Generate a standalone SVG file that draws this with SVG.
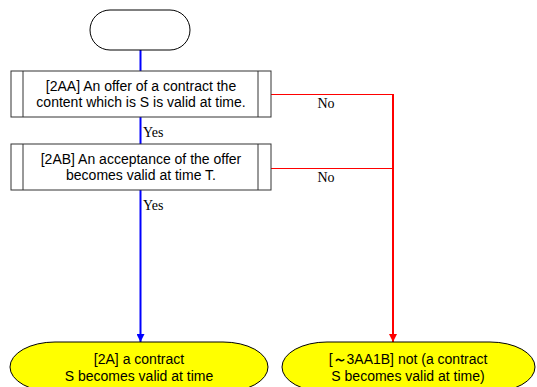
<svg xmlns="http://www.w3.org/2000/svg" width="537" height="387" viewBox="0 0 537 387">
  <style>
    .box { fill: #ffffff; stroke: #333333; stroke-width: 1; }
    .bar { fill: none; stroke: #333333; stroke-width: 1; }
    .term { fill: #ffffff; stroke: #000000; stroke-width: 1; }
    .end { fill: #ffff00; stroke: #000000; stroke-width: 1; }
    .txt { font-family: "Liberation Sans", Arial, sans-serif; font-size: 14px; fill: #000000; text-anchor: middle; }
    .lbl { font-family: "Liberation Serif", "Times New Roman", serif; font-size: 14px; fill: #000000; }
    .yes { fill: none; stroke: #0000ff; stroke-width: 2; }
    .no { fill: none; stroke: #ff0000; stroke-width: 1.2; }
    .no-main { fill: none; stroke: #ff0000; stroke-width: 2; }
  </style>
  <defs>
    <marker id="arrowBlue" viewBox="0 0 10 10" refX="10" refY="5" markerWidth="4" markerHeight="4" orient="auto" markerUnits="strokeWidth">
      <path d="M0,0 L10,5 L0,10 z" fill="#0000ff"/>
    </marker>
    <marker id="arrowRed" viewBox="0 0 10 10" refX="10" refY="5" markerWidth="4" markerHeight="4" orient="auto" markerUnits="strokeWidth">
      <path d="M0,0 L10,5 L0,10 z" fill="#ff0000"/>
    </marker>
  </defs>

  <!-- connectors -->
  <g id="connectors">
    <line class="yes" x1="140.5" y1="50" x2="140.5" y2="71"/>
    <line class="yes" x1="140.5" y1="117" x2="140.5" y2="144"/>
    <line class="yes" x1="140.5" y1="190" x2="140.5" y2="342" marker-end="url(#arrowBlue)"/>
    <line class="no" x1="271" y1="94.5" x2="393" y2="94.5"/>
    <line class="no" x1="271" y1="168.5" x2="393" y2="168.5"/>
    <line class="no-main" x1="393" y1="94" x2="393" y2="342" marker-end="url(#arrowRed)"/>
    <text class="lbl" x="143" y="137">Yes</text>
    <text class="lbl" x="143" y="210">Yes</text>
    <text class="lbl" x="326" y="108" text-anchor="middle">No</text>
    <text class="lbl" x="326" y="182" text-anchor="middle">No</text>
  </g>

  <!-- start terminator -->
  <g id="start">
    <rect class="term" x="90" y="10" width="100" height="40" rx="20" ry="20"/>
  </g>

  <!-- process 2AA -->
  <g id="node-2AA">
    <rect class="box" x="11" y="71" width="260" height="46"/>
    <line class="bar" x1="23" y1="71" x2="23" y2="117"/>
    <line class="bar" x1="258" y1="71" x2="258" y2="117"/>
    <text class="txt" x="141" y="91">[2AA] An offer of a contract the</text>
    <text class="txt" x="141" y="107">content which is S is valid at time.</text>
  </g>

  <!-- process 2AB -->
  <g id="node-2AB">
    <rect class="box" x="11" y="144" width="260" height="46"/>
    <line class="bar" x1="23" y1="144" x2="23" y2="190"/>
    <line class="bar" x1="258" y1="144" x2="258" y2="190"/>
    <text class="txt" x="141" y="164">[2AB] An acceptance of the offer</text>
    <text class="txt" x="141" y="180">becomes valid at time T.</text>
  </g>

  <!-- outcome 2A -->
  <g id="node-2A">
    <rect class="end" x="10" y="342" width="258" height="50" rx="45" ry="25"/>
    <text class="txt" x="139" y="364">[2A] a contract</text>
    <text class="txt" x="139" y="381">S becomes valid at time</text>
  </g>

  <!-- outcome ~3AA1B -->
  <g id="node-3AA1B">
    <rect class="end" x="282" y="342" width="253" height="50" rx="45" ry="25"/>
    <text class="txt" x="408" y="364">[<tspan font-weight="bold">～</tspan>3AA1B] not (a contract</text>
    <text class="txt" x="408" y="381">S becomes valid at time)</text>
  </g>
</svg>
